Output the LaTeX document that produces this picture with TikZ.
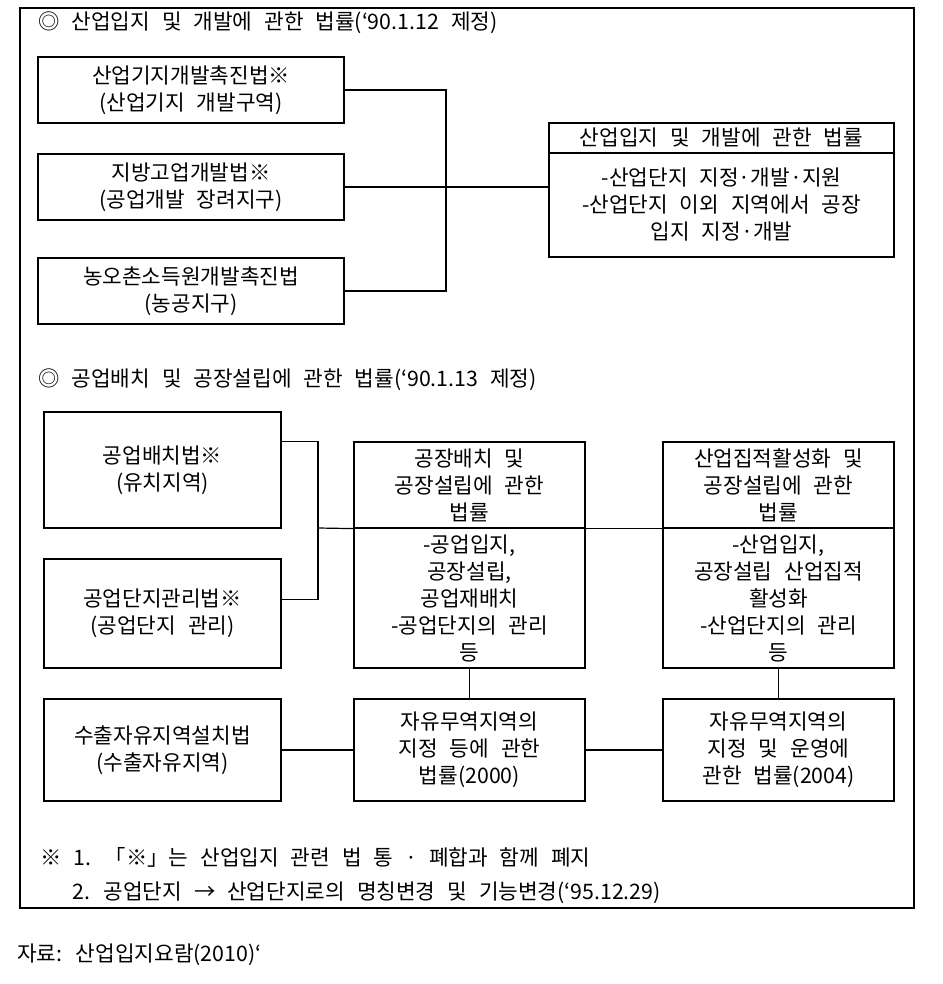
\documentclass[tikz,border=0pt]{standalone}
\usepackage{fontspec}
\setmainfont{Noto Sans CJK KR}[WordSpace=2.5]
\usetikzlibrary{calc}

\begin{document}
\begin{tikzpicture}[x=0.75pt,y=-0.75pt,
	font=\fontsize{16}{20.25}\selectfont,
	lawbox/.style={draw, line width=0.9pt, align=center, inner sep=0pt},
	boxsize/.style 2 args={minimum width=#1*\px, minimum height=#2*\px},
	heading/.style={anchor=west, inner sep=0pt}]

	% ---- parameters

	\def\px{0.75pt}

	% ---- page and frame

	\useasboundingbox (0,0) rectangle (942,984);
	\draw[line width=0.9pt] (20,8) rectangle (914,908);

	% ---- first law

	\node[heading] (T1) at (38,23) {◎ 산업입지 및 개발에 관한 법률(‘90.1.12 제정)};

	\node[lawbox, boxsize={306}{66}] (A1) at (191,90)  {산업기지개발촉진법※\\(산업기지 개발구역)};
	\node[lawbox, boxsize={306}{66}] (A2) at (191,187) {지방고업개발법※\\(공업개발 장려지구)};
	\node[lawbox, boxsize={306}{66}] (A3) at (191,291) {농오촌소득원개발촉진법\\(농공지구)};

	\node[lawbox, boxsize={345}{30}]  (R1h) at (721.5,138) {산업입지 및 개발에 관한 법률};
	\node[lawbox, boxsize={345}{104}] (R1b) at (721.5,205)
		{-산업단지 지정·개발·지원\\-산업단지 이외 지역에서 공장\\입지 지정·개발};

	% ---- first law : connectors

	\coordinate (jA) at (446,187);

	\draw[line width=0.9pt] (A1) -| (jA) |- (A3);
	\draw[line width=0.9pt] (A2) -- (R1b.west |- A2);

	% ---- second law

	\node[heading] (T2) at (38,380) {◎ 공업배치 및 공장설립에 관한 법률(‘90.1.13 제정)};

	\node[lawbox, boxsize={237}{116}] (B1) at (162.5,470)   {공업배치법※\\(유치지역)};
	\node[lawbox, boxsize={237}{109}] (B2) at (162.5,613.5) {공업단지관리법※\\(공업단지 관리)};
	\node[lawbox, boxsize={237}{102}] (B3) at (162.5,750)   {수출자유지역설치법\\(수출자유지역)};

	\node[lawbox, boxsize={231}{86}]  (C1h) at (469.5,485) {공장배치 및\\공장설립에 관한\\법률};
	\node[lawbox, boxsize={231}{140}] (C1b) at (469.5,598)
		{-공업입지,\\공장설립,\\공업재배치\\-공업단지의 관리\\등};
	\node[lawbox, boxsize={231}{102}] (C2)  at (469.5,750) {자유무역지역의\\지정 등에 관한\\법률(2000)};

	\node[lawbox, boxsize={231}{86}]  (D1h) at (778.5,485) {산업집적활성화 및\\공장설립에 관한\\법률};
	\node[lawbox, boxsize={231}{140}] (D1b) at (778.5,598)
		{-산업입지,\\공장설립 산업집적\\활성화\\-산업단지의 관리\\등};
	\node[lawbox, boxsize={231}{102}] (D2)  at (778.5,750) {자유무역지역의\\지정 및 운영에\\관한 법률(2004)};

	% ---- second law : connectors

	\coordinate (jB) at (318,528);

	\draw[line width=0.9pt] ([yshift=-30*\px]B1.north east) -| (jB) |- ([yshift=-41*\px]B2.north east);
	\draw[line width=0.9pt] (jB) -- (C1h.south west);
	\draw[line width=0.9pt] (C1h.south east) -- (D1h.south west);

	\foreach \from/\to in {C1b/C2, D1b/D2, B3/C2, C2/D2} { \draw[line width=0.9pt] (\from) -- (\to); }

	% ---- notes

	\node[heading] (N1) at (40,857) {※ 1. 「※」는 산업입지 관련 법 통 · 폐합과 함께 폐지};
	\node[heading] (N2) at (72,893) {2. 공업단지 → 산업단지로의 명칭변경 및 기능변경(‘95.12.29)};

	\node[heading] (S) at (17,955) {자료: 산업입지요람(2010)‘};

\end{tikzpicture}
\end{document}
